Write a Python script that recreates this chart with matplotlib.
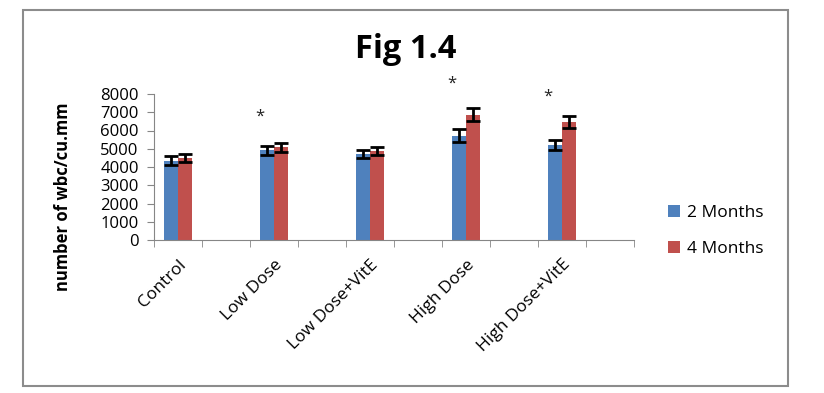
import numpy as np
import matplotlib.pyplot as plt
from matplotlib.patches import Rectangle

# data
groups = ["Control", "Low Dose", "Low Dose+VitE", "High Dose", "High Dose+VitE"]
m2 = [4350, 4920, 4720, 5720, 5200]        # 2 Months
m4 = [4500, 5080, 4890, 6870, 6460]        # 4 Months
m2_err = [230, 245, 230, 340, 275]
m4_err = [230, 245, 230, 375, 345]
star_groups = [1, 3, 4]                    # groups marked with *
star_y = [6750, 8550, 7850]

plt.rcParams['font.family'] = ['Open Sans', 'DejaVu Sans']

W, H = 824, 393
fig = plt.figure(figsize=(W / 100, H / 100), dpi=100)
ax = fig.add_axes([154 / W, 153 / H, 480 / W, 146 / H])

# every group sits in its own slot with an empty slot after it
x = np.arange(len(groups)) * 2
w = 0.29
ekw = dict(ecolor='black', elinewidth=2, capsize=5, capthick=2)
ax.bar(x - w / 2, m2, w, color='#4F81BD', label='2 Months', yerr=m2_err, error_kw=ekw)
ax.bar(x + w / 2, m4, w, color='#C0504D', label='4 Months', yerr=m4_err, error_kw=ekw)

for g, yv in zip(star_groups, star_y):
    ax.text(x[g] - w, yv, '*', ha='center', va='center', fontsize=12, color='#222222', clip_on=False)

ax.set_xlim(-0.5, 2 * len(groups) - 0.5)
ax.set_ylim(0, 8000)
ax.set_yticks(np.arange(0, 8001, 1000))
ax.set_xticks(x)
ax.set_xticklabels(groups, rotation=45, ha='right', rotation_mode='anchor', fontsize=12.5)
ax.set_xticks(np.arange(-0.5, 2 * len(groups), 1), minor=True)
ax.tick_params(axis='x', which='major', length=0, pad=12)
ax.tick_params(axis='x', which='minor', length=5, color='#868686', direction='out')
ax.tick_params(axis='y', length=5, color='#868686', direction='out', labelsize=12, pad=6)

for s in ['top', 'right']:
    ax.spines[s].set_visible(False)
for s in ['left', 'bottom']:
    ax.spines[s].set_color('#868686')

fig.text(406 / W, 1 - 50 / H, 'Fig 1.4', ha='center', va='center', fontsize=23.5, fontweight='bold')
fig.text(63 / W, 1 - 197 / H, 'number of wbc/cu.mm', ha='center', va='center',
         rotation=90, fontsize=12, fontweight='bold')

fig.legend(loc='center left', bbox_to_anchor=(652 / W, 1 - 231 / H), frameon=False,
           handlelength=0.7, handleheight=0.7, handletextpad=0.4, labelspacing=1.1, fontsize=12.5)

fig.patches.append(Rectangle((23 / W, 1 - 386 / H), (788 - 23) / W, (386 - 10) / H,
                             transform=fig.transFigure, fill=False, edgecolor='#8c8c8c', lw=1.5))

fig.savefig('out.png', dpi=100)
